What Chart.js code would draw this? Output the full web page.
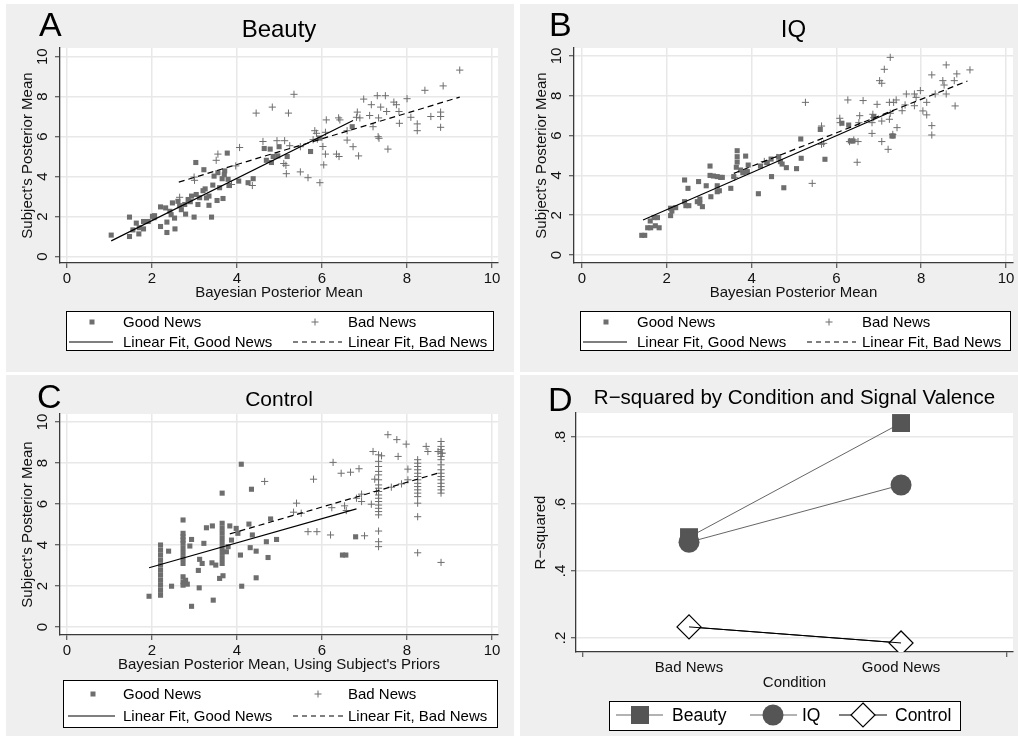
<!DOCTYPE html>
<html>
<head>
<meta charset="utf-8">
<script src="https://cdn.jsdelivr.net/npm/chart.js@4.4.1/dist/chart.umd.min.js"></script>
<style>
  html, body { margin: 0; padding: 0; background: #ffffff; width: 1018px; height: 740px; overflow: hidden; }
  .panel { position: absolute; background: #efefef; }
  canvas { display: block; }
</style>
</head>
<body>
<div class="panel" style="left:6px;top:4px;width:508px;height:368px"><canvas id="cA" width="508" height="368"></canvas></div>
<div class="panel" style="left:520px;top:4px;width:498px;height:368px"><canvas id="cB" width="498" height="368"></canvas></div>
<div class="panel" style="left:6px;top:375px;width:508px;height:361px"><canvas id="cC" width="508" height="361"></canvas></div>
<div class="panel" style="left:520px;top:375px;width:498px;height:361px"><canvas id="cD" width="498" height="361"></canvas></div>
<script>
// ---------------- DATA ----------------
const axisTicks = [0, 2, 4, 6, 8, 10];
const legendLabels = ['Good News', 'Bad News', 'Linear Fit, Good News', 'Linear Fit, Bad News'];

const beautyGood = [[1.04,1.08],[1.47,1.98],[1.47,1.01],[1.55,1.34],[1.69,1.14],[1.63,1.68],[1.80,1.39],[1.80,1.76],[1.91,1.76],[2.01,2.02],[2.06,2.05],[2.20,2.49],[2.20,1.51],[2.32,2.44],[2.35,1.73],[2.35,1.21],[2.42,2.27],[2.48,2.69],[2.53,1.93],[2.54,1.39],[2.61,2.77],[2.69,2.35],[2.79,2.13],[2.77,2.61],[2.85,2.86],[2.93,3.03],[2.99,1.98],[3.04,3.11],[3.03,4.71],[3.08,2.61],[3.22,4.35],[3.25,3.39],[3.28,2.94],[3.34,3.03],[3.34,2.57],[3.40,1.98],[3.43,3.58],[3.46,4.03],[3.53,2.81],[3.59,3.45],[3.65,3.90],[3.67,2.91],[3.71,4.29],[3.77,5.18],[3.79,3.87],[3.81,3.56],[4.04,3.78],[4.26,3.70],[4.38,3.90],[4.64,5.41],[4.78,5.38],[4.69,4.82],[4.85,5.01],[4.81,4.71],[4.99,5.50],[4.96,5.04],[5.18,5.01],[5.73,5.26],[5.95,5.93],[6.71,6.50],[2.90,2.75],[3.12,2.95],[2.45,2.10],[2.05,1.95],[1.70,1.45],[2.65,2.55],[3.55,4.20],[3.70,4.10],[3.20,3.30]];
const beautyBad = [[9.24,9.33],[8.85,8.54],[8.42,8.32],[8.00,7.90],[5.34,8.12],[4.83,7.48],[4.45,7.18],[5.21,7.18],[6.98,7.88],[7.30,8.05],[7.49,8.05],[7.16,7.60],[7.69,7.73],[7.75,7.60],[7.38,7.48],[7.52,7.26],[7.81,7.26],[8.09,6.97],[8.56,7.01],[8.79,7.23],[8.79,7.01],[8.79,6.47],[8.24,6.64],[8.24,6.30],[7.82,6.67],[7.12,7.06],[7.33,6.94],[7.20,6.50],[6.83,7.23],[6.81,6.97],[6.89,6.94],[6.39,6.94],[6.42,6.84],[6.10,6.84],[6.59,6.30],[6.59,5.83],[7.32,6.00],[7.34,5.92],[7.55,5.38],[6.73,5.50],[6.86,5.04],[6.34,5.13],[6.40,5.01],[6.08,5.13],[6.02,5.51],[6.04,4.59],[5.95,3.70],[5.67,3.95],[5.49,4.24],[5.83,6.30],[5.87,6.17],[6.08,6.22],[5.79,5.85],[5.89,5.88],[5.49,5.50],[5.24,5.55],[5.12,5.80],[4.94,5.80],[4.61,5.76],[5.15,4.57],[5.16,4.15],[5.10,4.66],[4.06,5.46],[3.55,5.13],[3.51,4.82],[2.99,3.98],[3.00,3.82],[3.97,4.54],[3.87,3.61],[4.36,3.56],[2.65,2.97]];
const beautyFitGood = [[1.04,0.79],[6.73,6.81]];
const beautyFitBad = [[2.63,3.73],[9.24,7.98]];

const iqGood = [[1.41,0.99],[1.48,0.99],[1.55,1.37],[1.61,1.71],[1.70,1.88],[1.78,1.88],[1.62,1.37],[1.73,1.47],[1.82,1.37],[2.09,1.98],[2.12,2.21],[2.21,2.38],[2.09,2.35],[2.42,3.77],[2.50,3.35],[2.42,2.68],[2.45,2.48],[2.52,2.48],[2.72,2.68],[2.78,2.60],[2.84,2.43],[2.75,3.69],[2.78,2.81],[2.93,3.48],[3.04,2.93],[3.02,4.47],[3.02,4.00],[3.10,3.97],[3.19,3.94],[3.27,3.90],[3.31,3.90],[3.19,3.48],[3.19,3.18],[3.24,3.23],[3.51,3.35],[3.58,3.94],[3.64,4.41],[3.66,5.24],[3.66,4.94],[3.66,4.67],[3.86,4.97],[3.74,4.27],[3.80,4.14],[3.90,4.19],[3.92,4.52],[4.16,3.08],[4.21,4.47],[4.37,4.64],[4.46,4.82],[4.47,3.94],[4.64,4.94],[4.68,4.69],[4.72,4.57],[4.76,3.38],[4.82,4.39],[5.06,4.34],[5.16,5.83],[5.17,4.86],[5.73,4.81],[5.62,6.31],[6.13,6.62],[6.29,6.53],[6.39,5.73],[6.33,5.73],[7.31,5.98],[7.34,5.98],[6.88,6.95]];
const iqBad = [[7.27,9.93],[7.13,9.33],[7.02,8.76],[7.07,8.63],[8.59,9.55],[8.25,9.05],[8.84,9.10],[9.15,9.30],[8.51,8.76],[8.54,8.54],[8.78,8.76],[7.98,8.26],[7.65,8.09],[7.84,8.09],[7.88,7.92],[8.33,8.09],[8.59,8.09],[8.80,7.49],[5.27,7.67],[6.27,7.79],[6.63,7.76],[6.96,7.57],[7.25,7.67],[7.35,7.67],[7.41,7.79],[7.55,7.25],[7.62,7.54],[7.84,7.50],[8.13,7.67],[8.04,7.24],[8.13,7.04],[8.25,6.50],[8.25,6.03],[6.08,6.87],[6.09,6.65],[6.55,7.00],[6.86,7.07],[6.88,6.90],[6.84,6.65],[7.07,6.73],[7.25,6.82],[7.27,7.12],[7.43,6.40],[7.33,6.06],[6.84,6.11],[7.07,5.70],[7.22,5.31],[6.53,6.65],[6.41,5.78],[6.31,5.70],[6.51,5.70],[6.49,4.66],[5.65,6.48],[5.65,5.56],[5.70,5.61],[5.43,3.60],[3.60,3.90],[3.75,4.20],[4.30,4.70],[4.60,4.90]];
const iqFitGood = [[1.44,1.76],[7.35,7.25]];
const iqFitBad = [[3.58,4.10],[9.09,8.74]];

const controlGood = [[1.93,1.50],[2.2,4.0],[2.2,3.75],[2.2,3.51],[2.2,3.26],[2.2,3.02],[2.2,2.77],[2.2,2.53],[2.2,2.28],[2.2,2.04],[2.2,1.79],[2.2,1.55],[2.39,3.70],[2.46,1.99],[2.73,5.22],[2.73,4.57],[2.73,4.40],[2.73,4.24],[2.73,4.08],[2.73,3.83],[2.73,3.59],[2.73,3.34],[2.73,3.10],[2.73,2.45],[2.73,2.20],[2.73,2.04],[2.79,2.28],[2.83,2.09],[2.93,4.27],[2.89,3.95],[2.93,1.01],[3.11,1.91],[3.09,2.76],[3.12,3.30],[3.18,3.10],[3.22,4.08],[3.28,4.84],[3.42,4.93],[3.41,3.13],[3.50,3.02],[3.44,1.31],[3.65,5.06],[3.65,4.81],[3.65,4.57],[3.65,4.32],[3.65,4.08],[3.65,3.83],[3.65,3.59],[3.65,3.34],[3.65,3.10],[3.65,6.53],[3.59,2.37],[3.67,2.50],[3.75,3.67],[3.79,3.92],[3.87,4.24],[3.83,4.93],[3.98,4.81],[4.02,4.57],[4.10,7.94],[4.08,3.51],[4.11,1.99],[4.28,5.02],[4.34,6.72],[4.36,4.49],[4.31,3.87],[4.45,3.70],[4.45,2.40],[4.69,4.16],[4.73,3.39],[4.79,5.27],[4.93,4.27],[6.48,3.51],[6.56,3.51],[6.79,4.40]];
const controlBad = [[7.55,9.38],[7.76,9.14],[7.98,8.92],[7.20,8.56],[7.40,8.35],[7.79,8.32],[8.45,8.81],[8.49,8.56],[6.26,8.03],[6.45,7.50],[6.67,7.55],[6.87,7.72],[5.80,7.21],[4.65,7.10],[5.40,6.04],[5.33,5.60],[5.51,5.55],[5.67,4.65],[5.88,4.65],[6.20,4.49],[7.00,4.45],[6.23,5.82],[6.53,5.91],[6.57,5.68],[6.81,6.28],[6.93,6.48],[6.93,6.12],[7.16,5.99],[7.33,8.40],[7.33,8.08],[7.33,7.83],[7.33,7.59],[7.33,7.42],[7.33,7.18],[7.33,6.93],[7.33,6.77],[7.33,6.61],[7.33,6.44],[7.33,6.28],[7.33,6.12],[7.33,5.95],[7.33,5.79],[7.33,5.63],[7.33,5.47],[7.33,4.68],[7.33,4.16],[7.33,3.92],[7.24,7.21],[7.28,6.61],[7.63,6.82],[7.87,6.98],[8.02,7.18],[8.02,7.70],[8.25,8.16],[8.25,7.99],[8.25,7.83],[8.25,7.67],[8.25,7.50],[8.25,7.34],[8.25,7.18],[8.25,7.01],[8.25,6.85],[8.25,6.69],[8.25,6.53],[8.25,6.36],[8.25,6.04],[8.25,5.38],[8.25,3.62],[8.8,9.05],[8.8,8.81],[8.8,8.65],[8.8,8.48],[8.8,8.32],[8.8,8.16],[8.8,7.91],[8.8,7.67],[8.8,7.50],[8.8,7.34],[8.8,7.18],[8.8,7.01],[8.8,6.85],[8.8,6.69],[8.8,6.53],[8.8,3.15],[8.73,8.56],[8.83,8.48]];
const controlFitGood = [[1.93,2.89],[6.81,5.76]];
const controlFitBad = [[3.83,4.54],[8.79,7.54]];

// Panel D: R-squared by condition
const conditionValues = [1, 2];
const conditionTicks = [0.5, 1, 2, 2.5];
const conditionTickLabels = ['', 'Bad News', 'Good News', ''];
const rsqBeauty = [0.501, 0.842];
const rsqIQ = [0.486, 0.657];
const rsqControl = [0.233, 0.185];
const rsqTicks = [0.2, 0.4, 0.6, 0.8];
const rsqTickLabels = ['.2', '.4', '.6', '.8'];
const legendLabelsD = ['Beauty', 'IQ', 'Control'];

// ---------------- STYLE / HELPERS ----------------
const FF = "'Liberation Sans', Arial, Helvetica, sans-serif";
const MARK = '#6e6e6e';
const DARK = '#555555';
const GRID = '#e8e8e8';
const AXIS = '#3a3a3a';
const pts = arr => arr.map(p => ({x: p[0], y: p[1]}));

const bgPlugin = {
  id: 'plotBg',
  beforeDraw(chart) {
    const a = chart.chartArea, c = chart.ctx;
    c.save(); c.fillStyle = '#ffffff';
    c.fillRect(a.left, a.top, a.right - a.left, a.bottom - a.top);
    c.restore();
  }
};

function sym(c, type, x, y, s) {
  c.save();
  if (type === 'square') { c.fillStyle = s.color; c.fillRect(x - s.size/2, y - s.size/2, s.size, s.size); }
  else if (type === 'plus') { c.strokeStyle = s.color; c.lineWidth = 1; c.beginPath(); c.moveTo(x - s.size/2, y); c.lineTo(x + s.size/2, y); c.moveTo(x, y - s.size/2); c.lineTo(x, y + s.size/2); c.stroke(); }
  else if (type === 'circle') { c.fillStyle = s.color; c.beginPath(); c.arc(x, y, s.size/2, 0, Math.PI*2); c.fill(); }
  else if (type === 'diamond') { c.fillStyle = '#fff'; c.strokeStyle = '#000'; c.lineWidth = 1.2; c.beginPath(); c.moveTo(x, y - s.size/2); c.lineTo(x + s.size/2, y); c.lineTo(x, y + s.size/2); c.lineTo(x - s.size/2, y); c.closePath(); c.fill(); c.stroke(); }
  c.restore();
}
function seg(c, x1, x2, y, color, dash, w) {
  c.save(); c.strokeStyle = color; c.lineWidth = w || 1; c.setLineDash(dash || []);
  c.beginPath(); c.moveTo(x1, y); c.lineTo(x2, y); c.stroke(); c.restore();
}

const decoPlugin = {
  id: 'deco',
  afterDraw(chart, args, o) {
    const c = chart.ctx, a = chart.chartArea;
    c.save();
    c.fillStyle = '#000';
    c.font = '34px ' + FF; c.textAlign = 'left'; c.textBaseline = 'alphabetic';
    c.fillText(o.letter, o.letterX, o.letterY);
    c.font = o.titleSize + 'px ' + FF; c.textAlign = 'center'; c.textBaseline = 'middle';
    c.fillText(o.title, (a.left + a.right) / 2, o.titleY);
    const L = o.legend;
    c.fillStyle = '#fff'; c.fillRect(L.x, L.y, L.w, L.h);
    c.strokeStyle = '#000'; c.lineWidth = 1; c.strokeRect(L.x + 0.5, L.y + 0.5, L.w, L.h);
    c.font = L.font + 'px ' + FF; c.textAlign = 'left'; c.textBaseline = 'middle'; c.fillStyle = '#000';
    L.items.forEach(it => {
      if (it.line) seg(c, it.line[0], it.line[1], it.y, it.lineColor, it.dash, it.lineWidth);
      if (it.sym) sym(c, it.sym, it.sx, it.y, {color: it.color, size: it.size});
      c.fillStyle = '#000';
      c.fillText(it.label, it.tx, it.y + 1);
    });
    c.restore();
  }
};

function yAxis(min, max, tickVals, tickLabels, title, width, pad, titlePad) {
  return {
    type: 'linear', position: 'left', min, max,
    afterBuildTicks: s => { s.ticks = tickVals.map(v => ({value: v})); },
    afterFit: s => { s.width = width; s.paddingTop = 0; s.paddingBottom = 0; },
    ticks: { minRotation: 90, maxRotation: 90, crossAlign: 'center', padding: pad, color: '#111',
             font: {size: 15, family: FF},
             callback: v => tickLabels[tickVals.indexOf(v)] },
    grid: { color: GRID, lineWidth: 1.5, tickLength: 5, tickColor: AXIS, tickWidth: 1 },
    border: { display: true, color: AXIS, width: 1.3 },
    title: { display: true, text: title, color: '#111', font: {size: 15, family: FF}, padding: {top: titlePad, bottom: 0} }
  };
}
function xAxis(min, max, tickVals, tickLabels, title, height, gridOn, hideTickAt) {
  return {
    type: 'linear', position: 'bottom', min, max,
    afterBuildTicks: s => { s.ticks = tickVals.map(v => ({value: v})); },
    afterFit: s => { s.height = height; s.paddingLeft = 0; s.paddingRight = 0; },
    ticks: { autoSkip: false, maxRotation: 0, minRotation: 0, padding: 2, color: '#111',
             font: {size: 15, family: FF},
             callback: v => tickLabels[tickVals.indexOf(v)] },
    grid: { color: GRID, lineWidth: 1.5, tickLength: 5, drawOnChartArea: gridOn, tickWidth: 1,
            tickColor: ctx => (hideTickAt && ctx.tick && hideTickAt.indexOf(ctx.tick.value) >= 0) ? 'rgba(0,0,0,0)' : AXIS },
    border: { display: true, color: AXIS, width: 1.3 },
    title: { display: true, text: title, color: '#111', font: {size: 15, family: FF}, padding: {top: 0, bottom: 0} }
  };
}

function scatterLegend(o) {
  return {
    x: o.x, y: o.y, w: o.w, h: o.h, font: 15,
    items: [
      {label: legendLabels[0], sym: 'square', color: MARK, size: 5, sx: o.s1, tx: o.t1, y: o.r1},
      {label: legendLabels[1], sym: 'plus', color: MARK, size: 7, sx: o.s2, tx: o.t2, y: o.r1},
      {label: legendLabels[2], line: o.l1, lineColor: '#000', lineWidth: 1.2, tx: o.t1, y: o.r2},
      {label: legendLabels[3], line: o.l2, lineColor: '#000', lineWidth: 1.2, dash: [5, 4], tx: o.t2, y: o.r2}
    ]
  };
}

function scatterPanel(id, cfg) {
  new Chart(document.getElementById(id), {
    type: 'scatter',
    data: { datasets: [
      { data: pts(cfg.fitGood), showLine: true, borderColor: '#000', borderWidth: 1.2, pointRadius: 0, fill: false },
      { data: pts(cfg.fitBad), showLine: true, borderColor: '#000', borderWidth: 1.2, borderDash: [6, 4], pointRadius: 0, fill: false },
      { data: pts(cfg.good), pointStyle: 'rect', pointRadius: 3.6, backgroundColor: MARK, borderColor: MARK, borderWidth: 0 },
      { data: pts(cfg.bad), pointStyle: 'cross', pointRadius: 3.6, backgroundColor: MARK, borderColor: MARK, borderWidth: 1 }
    ]},
    options: {
      responsive: false, animation: false, devicePixelRatio: 1,
      layout: { padding: cfg.padding, autoPadding: false },
      scales: {
        x: xAxis(cfg.xmin, cfg.xmax, axisTicks, axisTicks.map(String), cfg.xTitle, cfg.xH, true, null),
        y: yAxis(cfg.ymin, cfg.ymax, axisTicks, axisTicks.map(String), "Subject's Posterior Mean", 54, 4, 13)
      },
      plugins: { legend: {display: false}, tooltip: {enabled: false}, deco: cfg.deco }
    },
    plugins: [bgPlugin, decoPlugin]
  });
}

scatterPanel('cA', {
  good: beautyGood, bad: beautyBad, fitGood: beautyFitGood, fitBad: beautyFitBad,
  xmin: -0.165, xmax: 10.14, ymin: -0.315, ymax: 10.435,
  padding: {left: 0, top: 44, right: 16, bottom: 70}, xH: 39,
  xTitle: 'Bayesian Posterior Mean',
  deco: { letter: 'A', letterX: 33, letterY: 32, title: 'Beauty', titleSize: 24, titleY: 26,
          legend: scatterLegend({x: 60, y: 307, w: 427, h: 39, r1: 318, r2: 338, s1: 86, t1: 117, s2: 309, t2: 342, l1: [63, 107], l2: [287, 336]}) }
});
scatterPanel('cB', {
  good: iqGood, bad: iqBad, fitGood: iqFitGood, fitBad: iqFitBad,
  xmin: -0.188, xmax: 10.165, ymin: -0.4, ymax: 10.4,
  padding: {left: 0, top: 44, right: 5, bottom: 70}, xH: 39,
  xTitle: 'Bayesian Posterior Mean',
  deco: { letter: 'B', letterX: 29, letterY: 32, title: 'IQ', titleSize: 24, titleY: 26,
          legend: scatterLegend({x: 60, y: 307, w: 430, h: 39, r1: 318, r2: 338, s1: 86, t1: 117, s2: 309, t2: 342, l1: [63, 107], l2: [287, 336]}) }
});
scatterPanel('cC', {
  good: controlGood, bad: controlBad, fitGood: controlFitGood, fitBad: controlFitBad,
  xmin: -0.165, xmax: 10.14, ymin: -0.39, ymax: 10.39,
  padding: {left: 0, top: 39, right: 16, bottom: 62}, xH: 39,
  xTitle: "Bayesian Posterior Mean, Using Subject's Priors",
  deco: { letter: 'C', letterX: 31, letterY: 33, title: 'Control', titleSize: 21, titleY: 25,
          legend: scatterLegend({x: 57, y: 305, w: 434, h: 47, r1: 319, r2: 341, s1: 87, t1: 117, s2: 312, t2: 342, l1: [62, 109], l2: [287, 337]}) }
});

// Panel D
const dPts = vals => conditionValues.map((c, i) => ({x: c, y: vals[i]}));
new Chart(document.getElementById('cD'), {
  type: 'scatter',
  data: { datasets: [
    { data: dPts(rsqControl), showLine: true, borderColor: '#000', borderWidth: 1, pointRadius: 0 },
    { data: dPts(rsqIQ), showLine: true, borderColor: '#666', borderWidth: 1, pointStyle: 'circle', pointRadius: 10.5, pointBackgroundColor: DARK, pointBorderColor: DARK, pointBorderWidth: 0 },
    { data: dPts(rsqBeauty), showLine: true, borderColor: '#666', borderWidth: 1, pointStyle: 'rect', pointRadius: 12.7, pointBackgroundColor: DARK, pointBorderColor: DARK, pointBorderWidth: 0 },
    { data: dPts(rsqControl), showLine: true, borderColor: '#000', borderWidth: 1, pointStyle: 'rectRot', pointRadius: 12, pointBackgroundColor: '#fff', pointBorderColor: '#000', pointBorderWidth: 1.2 }
  ]},
  options: {
    responsive: false, animation: false, devicePixelRatio: 1,
    layout: { padding: {left: 0, top: 38, right: 5, bottom: 44}, autoPadding: false },
    scales: {
      x: xAxis(0.467, 2.528, conditionTicks, conditionTickLabels, 'Condition', 40, false, [1, 2]),
      y: yAxis(0.158, 0.872, rsqTicks, rsqTickLabels, 'R\u2212squared', 56, 4, 12)
    },
    plugins: { legend: {display: false}, tooltip: {enabled: false},
      deco: { letter: 'D', letterX: 28, letterY: 36, title: 'R\u2212squared by Condition and Signal Valence', titleSize: 20.5, titleY: 23,
        legend: { x: 89, y: 326, w: 351, h: 29, font: 17.5, items: [
          {label: legendLabelsD[0], line: [96, 143], lineColor: '#666', sym: 'square', color: DARK, size: 18, sx: 120, tx: 152, y: 340},
          {label: legendLabelsD[1], line: [230, 277], lineColor: '#666', sym: 'circle', color: DARK, size: 21, sx: 253, tx: 282, y: 340},
          {label: legendLabelsD[2], line: [319, 367], lineColor: '#000', sym: 'diamond', size: 24, sx: 343, tx: 375, y: 340}
        ]}
      }
    }
  },
  plugins: [bgPlugin, decoPlugin]
});
</script>
</body>
</html>
